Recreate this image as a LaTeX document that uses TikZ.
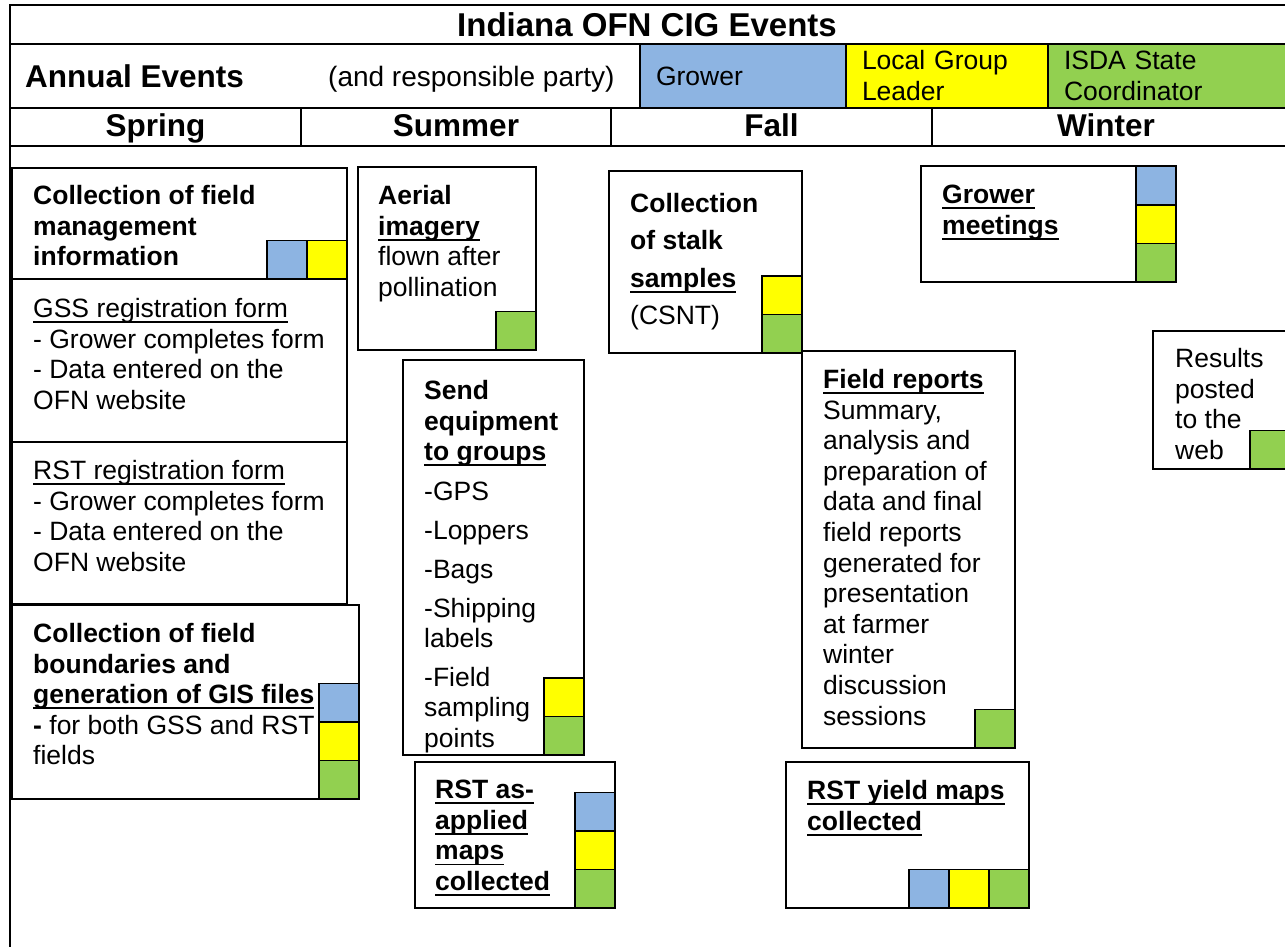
\documentclass[tikz,border=0pt]{standalone}
\usepackage{fontspec}
\setmainfont{Liberation Sans}
\usetikzlibrary{positioning}

\definecolor{growerblue}{RGB}{141,180,226}
\definecolor{leaderyellow}{RGB}{255,255,0}
\definecolor{isdagreen}{RGB}{146,208,80}

\newcommand{\evfont}{\fontsize{26.5}{30.6}\selectfont}
\newsavebox{\evulbox}
\newcommand{\evul}[1]{\sbox{\evulbox}{#1}\rlap{\rule[-5.5pt]{\wd\evulbox}{1.8pt}}\usebox{\evulbox}}

\begin{document}
\begin{tikzpicture}[
  x=1pt, y=-1pt,
  rowline/.style={line width=2pt},
  evbox/.style={draw, line width=1.5pt, fill=white, inner sep=0pt, outer sep=0pt, anchor=north west},
  evtext/.style={anchor=north west, inner sep=0pt, align=left, font=\evfont},
  sq/.style={draw, line width=1.5pt, inner sep=0pt, outer sep=0pt, minimum width=40pt, minimum height=38.5pt},
  grw/.style={sq, fill=growerblue},
  lgl/.style={sq, fill=leaderyellow},
  isda/.style={sq, fill=isdagreen},
  legcell/.style={draw, line width=1.5pt, anchor=north west, outer sep=0pt, minimum height=64pt, inner xsep=16pt, align=left, font=\fontsize{26.5}{31}\selectfont},
  season/.style={anchor=base, font=\fontsize{31.5}{36}\selectfont\bfseries}
]
\useasboundingbox (0,0) rectangle (1285,947);
\clip (0,0) rectangle (1285,947);

% table frame
\draw[rowline] (1290,5) -- (10,5) -- (10,950);
\draw[rowline] (10,44) -- (1290,44);
\draw[rowline] (10,108) -- (1290,108);
\draw[rowline] (10,146) -- (1290,146);
\foreach \xs in {301,611,932} \draw[line width=1.5pt] (\xs,108) -- (\xs,146);

\node[anchor=base, font=\fontsize{33}{40}\selectfont\bfseries] (title) at (647,37) {Indiana OFN CIG Events};
\node[anchor=base west, inner sep=0pt, font=\fontsize{31.5}{36}\selectfont\bfseries] (annual) at (25,88) {Annual Events};
\node[anchor=base west, inner sep=0pt, font=\fontsize{28}{32}\selectfont] (party) at (328,87) {(and responsible party)};

% legend
\node[legcell, fill=growerblue, text width=174pt] (grow) at (640,44) {Grower};
\node[legcell, fill=leaderyellow, text width=170pt] (lead) at (846,44) {Local Group\\Leader};
\node[legcell, fill=isdagreen, text width=250pt] (coord) at (1048,44) {ISDA State\\Coordinator};

\node[season] (spring) at (155.5,137) {Spring};
\node[season] (summer) at (456,137) {Summer};
\node[season] (fall) at (771.5,137) {Fall};
\node[season] (winter) at (1106,137) {Winter};

% spring
\node[evbox, minimum width=335pt, minimum height=111pt] (mgmt) at (12,168) {};
\node[evtext, font=\evfont\bfseries] (mgmt-t) at ([shift={(21,17)}]mgmt.north west) {Collection of field\\management\\information};
\node[lgl, anchor=south east] (mgmt-l) at (mgmt.south east) {};
\node[grw, left=0pt of mgmt-l] (mgmt-g) {};

\node[evbox, minimum width=335pt, minimum height=163pt] (gss) at (12,279) {};
\node[evtext] (gss-t) at ([shift={(21,19)}]gss.north west) {\evul{GSS registration form}\\- Grower completes form\\- Data entered on the\\OFN website};

\node[evbox, minimum width=335pt, minimum height=162pt] (rstreg) at (12,442) {};
\node[evtext] (rstreg-t) at ([shift={(21,18)}]rstreg.north west) {\evul{RST registration form}\\- Grower completes form\\- Data entered on the\\OFN website};

\node[evbox, minimum width=347pt, minimum height=194pt] (bnd) at (12,605) {};
\node[evtext] (bnd-t) at ([shift={(21,18)}]bnd.north west) {\textbf{Collection of field}\\\textbf{boundaries and}\\\textbf{\evul{generation of GIS files}}\\\textbf{-} for both GSS and RST\\fields};
\node[isda, anchor=south east] (bnd-i) at (bnd.south east) {};
\node[lgl, above=0pt of bnd-i] (bnd-l) {};
\node[grw, above=0pt of bnd-l] (bnd-g) {};

% summer
\node[evbox, minimum width=178pt, minimum height=183pt] (aerial) at (358,167) {};
\node[evtext] (aerial-t) at ([shift={(20,18)}]aerial.north west) {\textbf{Aerial}\\\textbf{\evul{imagery}}\\flown after\\pollination};
\node[isda, anchor=south east] (aerial-i) at (aerial.south east) {};

\node[evbox, minimum width=181pt, minimum height=395pt] (send) at (403,360) {};
\node[evtext] (send-t) at ([shift={(21,20)}]send.north west) {\textbf{Send}\\\textbf{equipment}\\\textbf{\evul{to groups}}\\[9pt]-GPS\\[9pt]-Loppers\\[8pt]-Bags\\[8pt]-Shipping\\labels\\[8pt]-Field\\sampling\\points};
\node[isda, anchor=south east] (send-i) at (send.south east) {};
\node[lgl, above=0pt of send-i] (send-l) {};

\node[evbox, minimum width=200pt, minimum height=146pt] (asapp) at (415,762) {};
\node[evtext, font=\evfont\bfseries] (asapp-t) at ([shift={(20,18)}]asapp.north west) {\evul{RST as-}\\\evul{applied}\\\evul{maps}\\\evul{collected}};
\node[isda, anchor=south east] (asapp-i) at (asapp.south east) {};
\node[lgl, above=0pt of asapp-i] (asapp-l) {};
\node[grw, above=0pt of asapp-l] (asapp-g) {};

% fall
\node[evbox, minimum width=193pt, minimum height=182pt] (stalk) at (609,171) {};
\node[evtext, font=\fontsize{26.5}{37.4}\selectfont] (stalk-t) at ([shift={(21,22)}]stalk.north west) {\textbf{Collection}\\\textbf{of stalk}\\\textbf{\evul{samples}}\\(CSNT)};
\node[isda, anchor=south east] (stalk-i) at (stalk.south east) {};
\node[lgl, above=0pt of stalk-i] (stalk-l) {};

\node[evbox, minimum width=213pt, minimum height=397pt] (freport) at (802,351) {};
\node[evtext] (freport-t) at ([shift={(21,18)}]freport.north west) {\textbf{\evul{Field reports}}\\Summary,\\analysis and\\preparation of\\data and final\\field reports\\generated for\\presentation\\at farmer\\winter\\discussion\\sessions};
\node[isda, anchor=south east] (freport-i) at (freport.south east) {};

\node[evbox, minimum width=243pt, minimum height=146pt] (yield) at (786,762) {};
\node[evtext, font=\evfont\bfseries] (yield-t) at ([shift={(21,18)}]yield.north west) {\evul{RST yield maps}\\\evul{collected}};
\node[isda, anchor=south east] (yield-i) at (yield.south east) {};
\node[lgl, left=0pt of yield-i] (yield-l) {};
\node[grw, left=0pt of yield-l] (yield-g) {};

% winter
\node[evbox, minimum width=255pt, minimum height=116pt] (meet) at (921,166) {};
\node[evtext, font=\evfont\bfseries] (meet-t) at ([shift={(21,19)}]meet.north west) {\evul{Grower}\\\evul{meetings}};
\node[isda, anchor=south east] (meet-i) at (meet.south east) {};
\node[lgl, above=0pt of meet-i] (meet-l) {};
\node[grw, above=0pt of meet-l] (meet-g) {};

\node[evbox, minimum width=137pt, minimum height=138pt] (results) at (1153,331) {};
\node[evtext] (results-t) at ([shift={(22,17)}]results.north west) {Results\\posted\\to the\\web};
\node[isda, anchor=south east] (results-i) at (results.south east) {};
\end{tikzpicture}
\end{document}
